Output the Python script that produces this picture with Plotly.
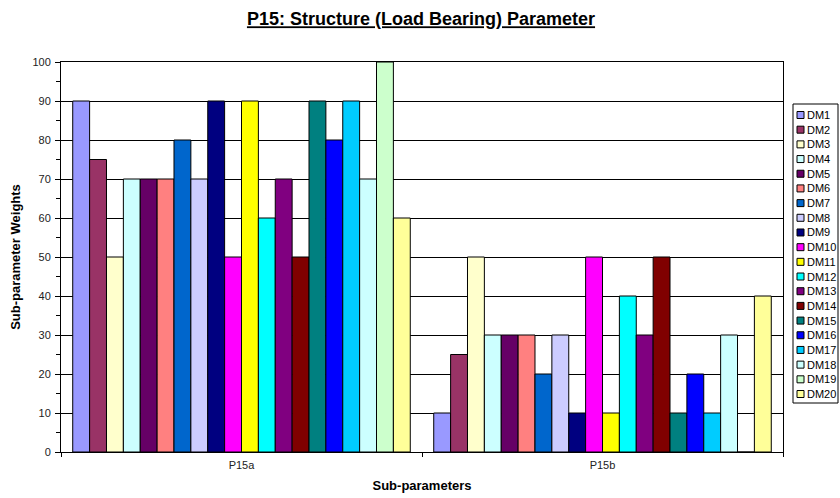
import plotly.graph_objects as go

categories = ["P15a", "P15b"]
series_names = ["DM%d" % i for i in range(1, 21)]
p15a = [90, 75, 50, 70, 70, 70, 80, 70, 90, 50, 90, 60, 70, 50, 90, 80, 90, 70, 100, 60]
p15b = [10, 25, 50, 30, 30, 30, 20, 30, 10, 50, 10, 40, 30, 50, 10, 20, 10, 30, 0, 40]
colors = ["#9999FF", "#993366", "#FFFFCC", "#CCFFFF", "#660066", "#FF8080", "#0066CC",
          "#CCCCFF", "#000080", "#FF00FF", "#FFFF00", "#00FFFF", "#800080", "#800000",
          "#008080", "#0000FF", "#00CCFF", "#CCFFFF", "#CCFFCC", "#FFFF99"]

W, H = 840, 498
# plot area in window pixels: x 61..783, y 62..452
L, R, T, B = 61, 840 - 783, 62, 498 - 452
pw, ph = W - L - R, H - T - B

def px(x):  # window pixel -> paper
    return (x - L) / pw

def py(y):
    return (H - B - y) / ph

fig = go.Figure()
for i, name in enumerate(series_names):
    fig.add_trace(go.Bar(
        x=categories, y=[p15a[i], p15b[i]], name=name, showlegend=False,
        marker=dict(color=colors[i], line=dict(color="black", width=1)),
    ))

font = "Liberation Sans, Arial, sans-serif"

# manual legend (Excel style, compact)
shapes = []
annotations = []
leg_left, leg_right, leg_top, leg_bot = 793, 838, 104, 403
shapes.append(dict(type="rect", xref="paper", yref="paper",
                   x0=px(leg_left), x1=px(leg_right), y0=py(leg_bot), y1=py(leg_top),
                   line=dict(color="black", width=1), fillcolor="white", layer="above"))
step = (394 - 115) / 19.0
for i, name in enumerate(series_names):
    cy = 115 + i * step
    shapes.append(dict(type="rect", xref="paper", yref="paper",
                       x0=px(797), x1=px(804), y0=py(cy + 3.5), y1=py(cy - 3.5),
                       line=dict(color="black", width=1), fillcolor=colors[i], layer="above"))
    annotations.append(dict(text=name, xref="paper", yref="paper", x=px(805), y=py(cy),
                            xanchor="left", yanchor="middle", showarrow=False,
                            font=dict(size=11, color="black", family=font)))

fig.update_layout(
    width=W, height=H,
    margin=dict(l=L, r=R, t=T, b=B, autoexpand=False),
    paper_bgcolor="white", plot_bgcolor="white",
    barmode="group", bargap=0.065, bargroupgap=0,
    showlegend=False,
    font=dict(family=font, size=11, color="black"),
    title=dict(text="<b><u>P15: Structure (Load Bearing) Parameter</u></b>",
               x=(421 - L) / pw * pw / W + L / W, xanchor="center", y=(H - 19) / H, yanchor="middle",
               font=dict(size=18, color="black")),
    shapes=shapes, annotations=annotations,
    xaxis=dict(type="category", showline=True, linecolor="black", linewidth=1,
               ticks="outside", tickson="boundaries", ticklen=4, tickcolor="black",
               mirror=True, showgrid=False, automargin=False, ticklabelstandoff=3,
               title=dict(text="<b>Sub-parameters</b>", font=dict(size=13), standoff=10),
               tickfont=dict(size=11, color="#222222")),
    yaxis=dict(range=[0, 100], dtick=10, showline=True, linecolor="black", linewidth=1,
               ticks="outside", ticklen=5, tickcolor="black", mirror=True,
               showgrid=True, gridcolor="black", gridwidth=1, zeroline=False, automargin=False,
               ticklabelstandoff=2,
               minor=dict(dtick=5, ticks="outside", ticklen=4, tickcolor="black", showgrid=False),
               title=dict(text="<b>Sub-parameter Weights</b>", font=dict(size=13), standoff=8),
               tickfont=dict(size=11, color="#222222")),
)

fig.write_html("out.html", config={"displayModeBar": False},
               post_script="document.body.style.margin='0';document.body.style.overflow='hidden';")
